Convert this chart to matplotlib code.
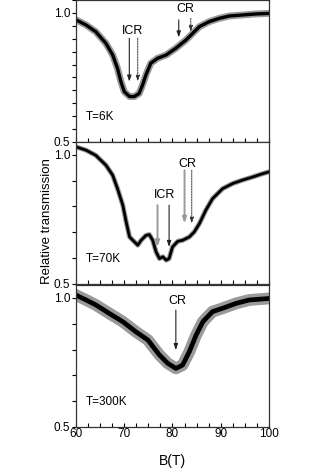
import matplotlib
matplotlib.use("Agg")
import matplotlib.pyplot as plt
from matplotlib.ticker import MultipleLocator, FixedLocator

plt.rcParams['font.family'] = ['Liberation Sans', 'DejaVu Sans']

# values: field B (T) and relative transmission
b_6k = [60.0, 62.1, 64.1, 66.2, 67.6, 68.6, 69.3, 70.0, 71.1, 72.1, 73.1, 73.8, 74.5,
        75.5, 76.9, 78.7, 80.7, 82.8, 84.2, 85.6, 87.6, 89.7, 91.8, 94.5, 97.3, 100.0]
t_6k = [0.973, 0.953, 0.927, 0.882, 0.837, 0.785, 0.734, 0.695, 0.676, 0.676, 0.688, 0.721, 0.760,
        0.805, 0.824, 0.837, 0.863, 0.895, 0.921, 0.947, 0.966, 0.979, 0.988, 0.992, 0.996, 0.998]

b_70k = [60.0, 62.1, 64.1, 66.2, 67.6, 68.6, 69.7, 70.4, 71.1, 72.1, 72.8, 73.5, 74.5, 75.2,
         75.9, 76.6, 77.3, 78.0, 78.7, 79.3, 80.0, 81.1, 82.1, 83.5, 84.5, 85.6, 86.9, 88.3,
         90.4, 92.5, 94.5, 96.6, 98.7, 100.0]
t_70k = [1.031, 1.018, 0.998, 0.960, 0.921, 0.869, 0.805, 0.740, 0.682, 0.663, 0.650, 0.669, 0.688, 0.691,
         0.669, 0.624, 0.598, 0.605, 0.592, 0.598, 0.643, 0.665, 0.669, 0.682, 0.701, 0.734, 0.785, 0.830,
         0.869, 0.889, 0.902, 0.914, 0.927, 0.934]

b_300k = [60.0, 62.1, 64.1, 66.9, 69.7, 72.4, 74.9, 77.3, 79.0, 80.7, 82.1, 83.5,
          84.9, 86.3, 88.3, 90.4, 93.2, 95.9, 100.0]
t_300k = [1.011, 0.992, 0.973, 0.940, 0.908, 0.869, 0.837, 0.779, 0.747, 0.727, 0.740, 0.792,
          0.856, 0.908, 0.947, 0.960, 0.979, 0.992, 0.998]

temps = ["T=6K", "T=70K", "T=300K"]
label_y = [0.595, 0.595, 0.595]

# arrows: (B, y_start, y_end, style)  style: 'k' solid black, 'g' solid grey, 'd' dotted
arrows_6k = [(71.05, 0.902, 0.734, 'k'), (72.8, 0.902, 0.734, 'd'),
             (81.3, 0.973, 0.905, 'k'), (83.8, 0.979, 0.927, 'd')]
texts_6k = [("ICR", 71.7, 0.93), ("CR", 82.6, 1.014)]
arrows_70k = [(76.9, 0.805, 0.643, 'g'), (79.3, 0.805, 0.643, 'k'),
              (82.5, 0.940, 0.734, 'g'), (84.0, 0.940, 0.734, 'd')]
texts_70k = [("ICR", 78.3, 0.846), ("CR", 83.1, 0.966)]
arrows_300k = [(80.7, 0.953, 0.798, 'k')]
texts_300k = [("CR", 81.1, 0.988)]

# noise band look per panel: (halo width, core width)
band = [(5.0, 2.4), (3.6, 2.0), (8.5, 3.4)]

fig = plt.figure(figsize=(3.32, 4.70), dpi=100)
left, width = 0.229, 0.581
bottoms = [0.698, 0.396, 0.0915]
height = 0.302

panels = [(b_6k, t_6k, arrows_6k, texts_6k),
          (b_70k, t_70k, arrows_70k, texts_70k),
          (b_300k, t_300k, arrows_300k, texts_300k)]

axes = []
for i, (bx, ty, arrs, txts) in enumerate(panels):
    ax = fig.add_axes([left, bottoms[i], width, height])
    axes.append(ax)
    ax.plot(bx, ty, color='#9a9a9a', lw=band[i][0], solid_joinstyle='round')
    ax.plot(bx, ty, color='black', lw=band[i][1], solid_joinstyle='round')
    ax.set_xlim(60, 100)
    ax.set_ylim(0.5, 1.05)
    ax.yaxis.set_major_locator(FixedLocator([0.5, 1.0]))
    ax.yaxis.set_minor_locator(MultipleLocator(0.05 if i == 0 else 0.1))
    ax.xaxis.set_major_locator(MultipleLocator(10))
    ax.xaxis.set_minor_locator(MultipleLocator(2.5))
    ax.tick_params(axis='y', which='both', direction='out', length=3, width=0.8,
                   labelsize=8.5, pad=1, right=False)
    ax.tick_params(axis='x', which='both', direction='in', length=3, width=0.8,
                   labelsize=8.5, pad=1, top=False)
    ax.yaxis.set_major_formatter(plt.FormatStrFormatter('%.1f'))
    if i < 2:
        ax.tick_params(axis='x', labelbottom=False)
    for s in ax.spines.values():
        s.set_linewidth(0.9)
        s.set_color('#333333')
    ax.text(62.0, label_y[i], temps[i], fontsize=8.5, va='center', ha='left')
    for (xb, y0, y1, st) in arrs:
        if st == 'g':
            col, lw, ls = '#9a9a9a', 1.4, '-'
        elif st == 'd':
            col, lw, ls = '#333333', 0.7, (0, (1.5, 1.2))
        else:
            col, lw, ls = '#222222', 0.8, '-'
        ax.annotate('', xy=(xb, y1), xytext=(xb, y0),
                    arrowprops=dict(arrowstyle='-|>,head_length=0.35,head_width=0.12',
                                    lw=lw, ls=ls, color=col, shrinkA=0, shrinkB=0))
    for (s, xb, yv) in txts:
        ax.text(xb, yv, s, fontsize=9, ha='center', va='center')

axes[2].set_xlabel('B(T)', fontsize=10, labelpad=10)
fig.text(0.142, 0.53, 'Relative transmission', rotation=90, fontsize=9.5,
         ha='center', va='center')

fig.savefig('out.png', dpi=100)
